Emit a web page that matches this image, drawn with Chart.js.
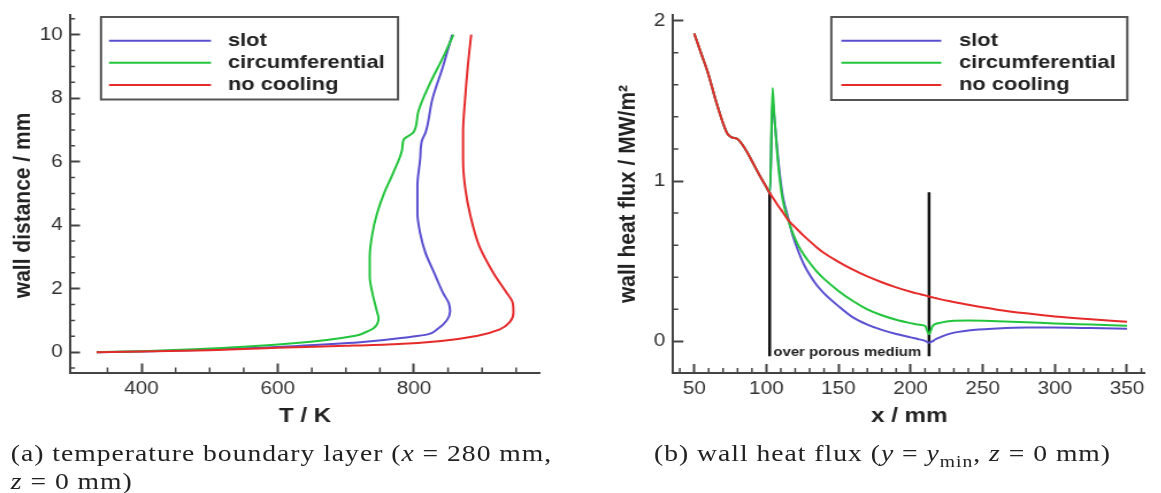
<!DOCTYPE html>
<html>
<head>
<meta charset="utf-8">
<title>Wall cooling: temperature boundary layer and wall heat flux</title>
<script src="https://cdn.jsdelivr.net/npm/chart.js@4.4.1/dist/chart.umd.min.js"></script>
<style>
  html, body { margin: 0; padding: 0; background: #fff; overflow: hidden; }
  /* the source figure is stretched sideways, so the whole page is drawn narrow and widened */
  #page { position: relative; width: 1009.6px; height: 493px; transform: scaleX(1.15); transform-origin: 0 0; }
  canvas { position: absolute; top: 0; }
  .caption { position: absolute; font-family: "Liberation Serif", "Times New Roman", serif; font-size: 24px; line-height: 28px; color: #222; white-space: nowrap; letter-spacing: 0.87px; }
</style>
</head>
<body>
<div id="page">
  <canvas id="tempChart" width="487" height="440" style="left:0"></canvas>
  <canvas id="fluxChart" width="488" height="440" style="left:521.7px"></canvas>
  <div class="caption" style="left:9.4px; top:439px">(a) temperature boundary layer (<i>x</i> = 280 mm,<br><i>z</i> = 0 mm)</div>
  <div class="caption" style="left:568.7px; top:439px">(b) wall heat flux (<i>y</i> = <i>y</i><sub style="font-size:17px">min</sub>, <i>z</i> = 0 mm)</div>
</div>
<script>
const K = 1.15;

// (a) temperature T / K against wall distance / mm
const slotDist = [0, 0.025, 0.08, 0.19, 0.31, 0.48, 0.56, 0.72, 1.0, 1.28, 1.55, 1.85, 2.48, 3.12, 3.75, 4.38, 5.23, 6.07, 6.65, 6.92, 7.97, 9.03, 10];
const slotT = [334, 400, 500, 623, 721, 794, 820, 834, 848, 853, 851, 843, 830, 817, 809, 805, 805, 809, 811.5, 817, 827, 843, 856];
const circDist = [0, 0.03, 0.09, 0.28, 0.52, 0.62, 0.76, 1.07, 1.25, 1.5, 1.85, 2.38, 3.0, 3.75, 4.38, 5.0, 5.65, 6.39, 6.7, 6.92, 7.55, 8.4, 9.3, 10];
const circT = [334, 400, 477, 623, 714, 728, 741, 748, 746, 743, 739, 735, 735, 739, 746, 756, 769.5, 782.6, 785, 799, 806, 822, 843, 858];
const noCoolDist = [0, 0.02, 0.06, 0.14, 0.2, 0.25, 0.36, 0.51, 0.72, 0.96, 1.25, 1.55, 1.9, 2.48, 3.33, 4.28, 5.2, 6.07, 6.92, 7.97, 9.0, 10];
const noCoolT = [334, 400, 500, 600, 700, 770, 843, 892, 926, 941, 946, 945, 935, 917, 896, 883, 875, 872, 872, 875, 879, 884];

// (b) wall heat flux / MW/m2 against x / mm
const xPos = [50, 55, 60, 65, 70, 73, 76, 80, 85, 90, 95, 100, 102.5, 104.3, 105.2, 107, 109.2, 111.5, 115,
  118.5, 122, 126, 130, 135, 140, 150, 160, 170, 180, 190, 200, 205, 210, 212.8, 215, 217, 221, 228, 240, 260, 280, 300, 325, 350];
const fluxSlot = [1.92, 1.79, 1.66, 1.5, 1.36, 1.295, 1.272, 1.262, 1.205, 1.125, 1.04, 0.962, 0.925, 1.5, 1.43, 1.25, 1.05, 0.9, 0.775,
  0.655, 0.565, 0.48, 0.415, 0.35, 0.3, 0.22, 0.15, 0.105, 0.072, 0.046, 0.025, 0.015, 0.003, -0.008, 0.0, 0.012, 0.028, 0.05, 0.068, 0.08, 0.086, 0.086, 0.083, 0.079];
const fluxCirc = [1.92, 1.79, 1.66, 1.5, 1.36, 1.295, 1.272, 1.262, 1.205, 1.125, 1.04, 0.962, 0.925, 1.58, 1.45, 1.23, 1.02, 0.875, 0.76,
  0.67, 0.6, 0.54, 0.49, 0.435, 0.39, 0.315, 0.252, 0.2, 0.163, 0.135, 0.114, 0.105, 0.097, 0.045, 0.092, 0.108, 0.117, 0.127, 0.13, 0.126, 0.12, 0.112, 0.105, 0.098];
const fluxNoCool = [1.92, 1.79, 1.66, 1.5, 1.36, 1.295, 1.272, 1.262, 1.205, 1.125, 1.04, 0.962, 0.922, 0.898, 0.886, 0.862, 0.833, 0.804, 0.758,
  0.725, 0.693, 0.658, 0.625, 0.586, 0.551, 0.496, 0.447, 0.405, 0.369, 0.337, 0.31, 0.298, 0.287, 0.28, 0.275, 0.271, 0.262, 0.249, 0.228, 0.198, 0.175, 0.156, 0.138, 0.123];
const porousEdges = [102.3, 212.8];
const porousSpan = [-0.093, 0.93];

// ticks
const tempTicks = [400, 600, 800];
const tempMinor = [350, 450, 500, 550, 650, 700, 750, 850, 900, 950];
const distTicks = [0, 2, 4, 6, 8, 10];
const distMinor = [-0.5, 0.5, 1, 1.5, 2.5, 3, 3.5, 4.5, 5, 5.5, 6.5, 7, 7.5, 8.5, 9, 9.5, 10.5];
const xTicks = [50, 100, 150, 200, 250, 300, 350];
const xMinor = [40, 60, 70, 80, 90, 110, 120, 130, 140, 160, 170, 180, 190, 210, 220, 230, 240, 260, 270, 280, 290, 310, 320, 330, 340, 360];
const fluxTicks = [0, 1, 2];
const fluxMinor = [0.2, 0.4, 0.6, 0.8, 1.2, 1.4, 1.6, 1.8];

const colors = { slot: "#5a4fd0", circ: "#22c43c", noCool: "#e62a2a" };
const AXIS = "#444";
Chart.defaults.font.family = '"Liberation Sans", Arial, Helvetica, sans-serif';

function curve(label, xs, ys, color, order) {
  return {
    label: label,
    data: xs.map((x, i) => ({ x: x, y: ys[i] })),
    borderColor: color,
    backgroundColor: color,
    borderWidth: 2,
    pointRadius: 0,
    cubicInterpolationMode: "monotone",
    order: order,
  };
}

// force the axis boxes so the plot area sits where it does in the figure
function fixBox(scale, size) {
  if (scale.isHorizontal()) scale.height = size;
  else scale.width = size;
  scale.paddingLeft = scale.paddingRight = scale.paddingTop = scale.paddingBottom = 0;
}

function axis(min, max, ticks, opts) {
  return {
    type: "linear",
    min: min,
    max: max,
    afterBuildTicks: (s) => { s.ticks = ticks.map((v) => ({ value: v })); },
    afterFit: (s) => fixBox(s, opts.size),
    border: { display: true, color: AXIS, width: 2 },
    grid: { drawOnChartArea: false, drawTicks: true, tickLength: opts.tickLength, tickWidth: 2, tickColor: AXIS },
    ticks: { font: { size: 18 }, color: "#333", padding: opts.pad },
    title: {
      display: true,
      text: opts.title,
      color: "#222",
      font: { size: 21, weight: "bold" },
      padding: opts.titlePad,
    },
  };
}

const minorTicks = {
  id: "minorTicks",
  afterDraw(chart, args, opts) {
    const { ctx, chartArea: a, scales } = chart;
    ctx.save();
    ctx.strokeStyle = AXIS;
    ctx.lineWidth = 1.5;
    ctx.beginPath();
    opts.x.forEach((v) => {
      const px = scales.x.getPixelForValue(v);
      ctx.moveTo(px, a.bottom);
      ctx.lineTo(px, a.bottom - 5);
    });
    opts.y.forEach((v) => {
      const py = scales.y.getPixelForValue(v);
      ctx.moveTo(a.left, py);
      ctx.lineTo(a.left + 5 / K, py);
    });
    ctx.stroke();
    ctx.restore();
  },
};

const boxLegend = {
  id: "boxLegend",
  afterDraw(chart, args, opts) {
    const ctx = chart.ctx;
    const [x0, y0, x1, y1] = opts.box.map((v, i) => (i % 2 ? v : v / K));
    ctx.save();
    ctx.fillStyle = "#fff";
    ctx.fillRect(x0, y0, x1 - x0, y1 - y0);
    ctx.strokeStyle = "#555";
    ctx.lineWidth = 2;
    ctx.strokeRect(x0, y0, x1 - x0, y1 - y0);
    ctx.font = 'bold 19px "Liberation Sans", Arial, sans-serif';
    ctx.textBaseline = "middle";
    chart.data.datasets.filter((ds) => !ds.marker).forEach((ds, i) => {
      const y = opts.rows[i];
      ctx.strokeStyle = ds.borderColor;
      ctx.lineWidth = 2;
      ctx.beginPath();
      ctx.moveTo(opts.line[0] / K, y);
      ctx.lineTo(opts.line[1] / K, y);
      ctx.stroke();
      ctx.fillStyle = "#222";
      ctx.fillText(ds.label, opts.textX / K, y);
    });
    ctx.restore();
  },
};

const porousLabel = {
  id: "porousLabel",
  afterDatasetsDraw(chart, args, opts) {
    if (!opts.text) return;
    const { ctx, scales } = chart;
    ctx.save();
    ctx.font = 'bold 13px "Liberation Sans", Arial, sans-serif';
    ctx.fillStyle = "#222";
    ctx.fillText(opts.text, scales.x.getPixelForValue(opts.at[0]) + 3.2, scales.y.getPixelForValue(opts.at[1]));
    ctx.restore();
  },
};

const tempChart = new Chart(document.getElementById("tempChart"), {
  type: "line",
  data: {
    datasets: [
      curve("slot", slotT, slotDist, colors.slot, 2),
      curve("circumferential", circT, circDist, colors.circ, 1),
      curve("no cooling", noCoolT, noCoolDist, colors.noCool, 0),
    ],
  },
  options: {
    indexAxis: "y",
    animation: false,
    responsive: false,
    devicePixelRatio: 1,
    layout: { padding: { left: 0, top: 15, right: 487 - 540 / K, bottom: 0 } },
    plugins: {
      legend: { display: false },
      tooltip: { enabled: false },
      boxLegend: { box: [101, 17, 398, 99.5], line: [109, 211], textX: 228, rows: [40.7, 62.7, 85] },
      minorTicks: { x: tempMinor, y: distMinor },
    },
    scales: {
      x: axis(295, 985, tempTicks, { size: 440 - 372.5, tickLength: -9, pad: 14.5, title: "T / K", titlePad: { top: 0, bottom: 10.9 } }),
      y: axis(-0.64, 10.62, distTicks, { size: 70 / K, tickLength: -8.7, pad: 15.1, title: "wall distance / mm\u00a0\u00a0\u00a0\u00a0", titlePad: { top: 20.4 - 12.6, bottom: 0 } }),
    },
  },
  plugins: [minorTicks, boxLegend],
});

const markers = porousEdges.map((x) => ({
  marker: true,
  data: porousSpan.map((y) => ({ x: x, y: y })),
  borderColor: "#111",
  borderWidth: 2.5,
  pointRadius: 0,
  order: 3,
}));

const fluxChart = new Chart(document.getElementById("fluxChart"), {
  type: "line",
  data: {
    datasets: [
      curve("slot", xPos, fluxSlot, colors.slot, 2),
      curve("circumferential", xPos, fluxCirc, colors.circ, 1),
      curve("no cooling", xPos, fluxNoCool, colors.noCool, 0),
    ].concat(markers),
  },
  options: {
    animation: false,
    responsive: false,
    devicePixelRatio: 1,
    layout: { padding: { left: 0, top: 15, right: 488 - (1145 / K - 600 / K), bottom: 0 } },
    plugins: {
      legend: { display: false },
      tooltip: { enabled: false },
      boxLegend: { box: [231, 17, 527, 100], line: [241, 341], textX: 358.8, rows: [40.7, 62.7, 85] },
      minorTicks: { x: xMinor, y: fluxMinor },
      porousLabel: { text: "over porous medium", at: [porousEdges[0], porousSpan[0]] },
    },
    scales: {
      x: axis(35.5, 362.7, xTicks, { size: 440 - 373, tickLength: -9, pad: 14.5, title: "x / mm", titlePad: { top: 0, bottom: 10.9 } }),
      y: axis(-0.197, 2.035, fluxTicks, { size: 73 / K, tickLength: -8.7, pad: 15.6, title: "wall heat flux / MW/m\u00b2", titlePad: { top: 24.3 - 12.6, bottom: 0 } }),
    },
  },
  plugins: [minorTicks, boxLegend, porousLabel],
});
</script>
</body>
</html>
